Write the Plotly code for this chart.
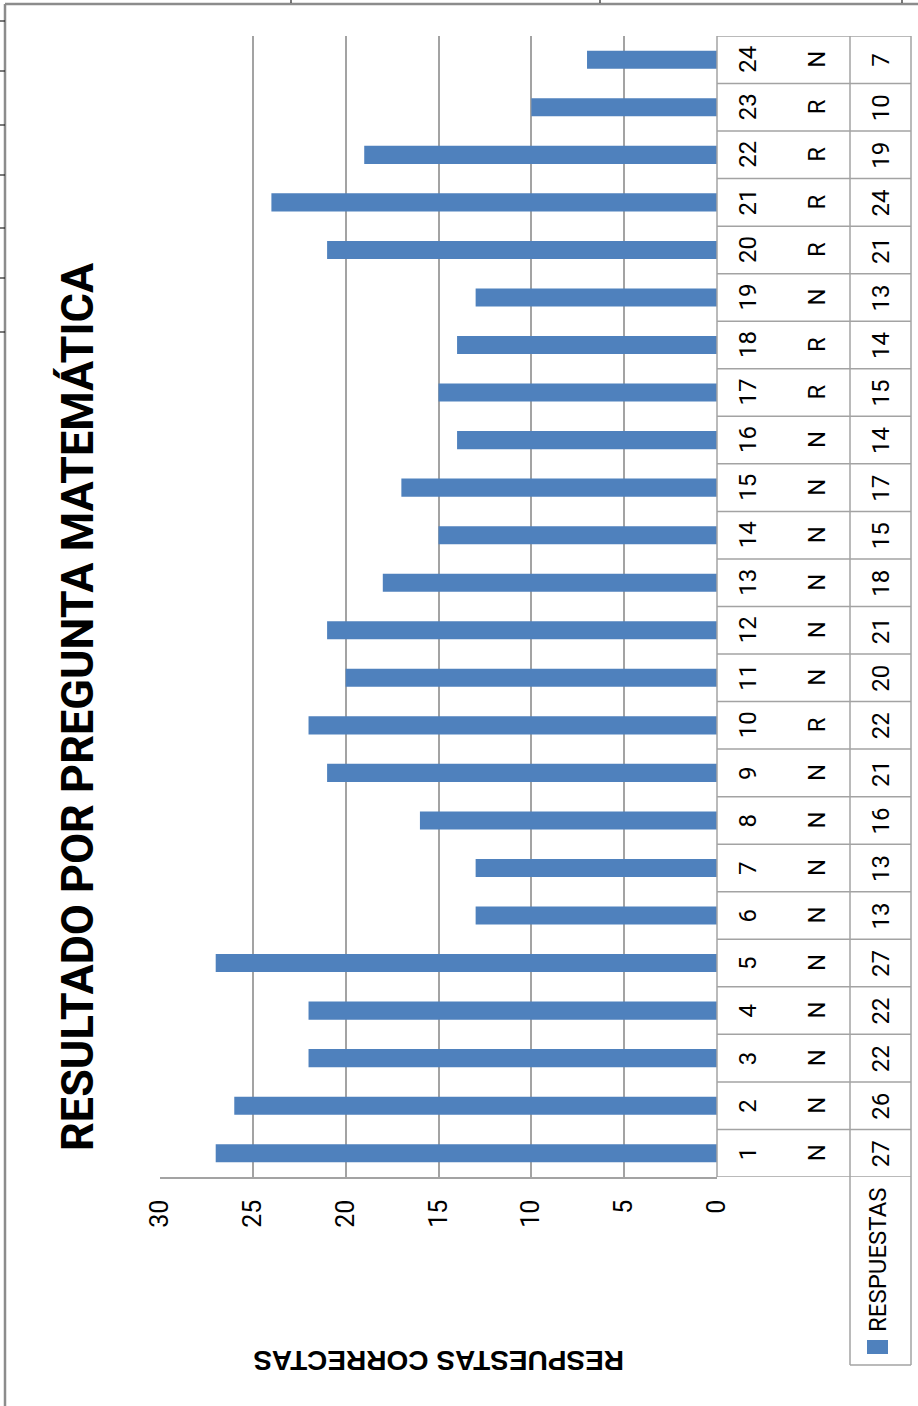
import plotly.graph_objects as go

# ---------------- data ----------------
preguntas = ["1", "2", "3", "4", "5", "6", "7", "8", "9", "10", "11", "12",
             "13", "14", "15", "16", "17", "18", "19", "20", "21", "22", "23", "24"]
tipo = ["N", "N", "N", "N", "N", "N", "N", "N", "N", "R", "N", "N",
        "N", "N", "N", "N", "R", "R", "N", "R", "R", "R", "R", "N"]
respuestas = [27, 26, 22, 22, 27, 13, 13, 16, 21, 22, 20, 21,
              18, 15, 17, 14, 15, 14, 13, 21, 24, 19, 10, 7]
tick_vals = [0, 5, 10, 15, 20, 25, 30]
tick_text = ["0", "5", "10", "15", "20", "25", "30"]
serie_nombre = "RESPUESTAS"
titulo = "RESULTADO POR PREGUNTA MATEMÁTICA"
titulo_eje = "RESPUESTAS CORRECTAS"

# ---------------- layout geometry ----------------
W, H = 918, 1406
PX0, PX1 = 160, 717      # plot area left/right (pixels)
PY0, PY1 = 36, 1177      # plot area top/bottom (pixels)


def px(x):
    return (x - PX0) / (PX1 - PX0)


def py(y):
    return (PY1 - y) / (PY1 - PY0)


NARROW = "Roboto, Liberation Sans Narrow, DejaVu Sans Condensed, sans-serif"
WIDE = "Liberation Sans, Arial, DejaVu Sans, sans-serif"
BLUE = "#4F81BD"
GRID = "#a3a3a3"

fig = go.Figure()
fig.add_trace(go.Bar(
    x=respuestas, y=preguntas, orientation="h",
    marker=dict(color=BLUE, line=dict(width=0)),
    name=serie_nombre, showlegend=False,
))

shapes = []
annotations = []

# data table: row borders
n = len(preguntas)
for i in range(n + 1):
    shapes.append(dict(type="line", xref="paper", yref="y",
                       x0=px(717), x1=px(911), y0=i - 0.5, y1=i - 0.5,
                       line=dict(color=GRID, width=1.5)))
# vertical borders of the table
shapes.append(dict(type="line", xref="paper", yref="paper",
                   x0=px(717), x1=px(717), y0=0, y1=1, line=dict(color=GRID, width=1.5)))
for xx in (850, 911):
    shapes.append(dict(type="line", xref="paper", yref="paper",
                       x0=px(xx), x1=px(xx), y0=py(1365), y1=1, line=dict(color=GRID, width=1.5)))
shapes.append(dict(type="line", xref="paper", yref="paper",
                   x0=px(850), x1=px(911), y0=py(1365), y1=py(1365),
                   line=dict(color=GRID, width=1.5)))
# legend key
shapes.append(dict(type="rect", xref="paper", yref="paper",
                   x0=px(867), x1=px(888), y0=py(1354), y1=py(1340),
                   fillcolor=BLUE, line=dict(width=0)))

# outer frame of the chart (left & top) and document remnants
shapes.append(dict(type="line", xref="paper", yref="paper",
                   x0=px(5), x1=px(5), y0=py(1406), y1=py(4), line=dict(color="#8c8c8c", width=2.5)))
shapes.append(dict(type="line", xref="paper", yref="paper",
                   x0=px(5), x1=px(918), y0=py(4), y1=py(4), line=dict(color="#8c8c8c", width=2.5)))
for yy in (21, 71, 125, 175, 228, 278, 332):
    shapes.append(dict(type="line", xref="paper", yref="paper",
                       x0=px(0), x1=px(5), y0=py(yy), y1=py(yy), line=dict(color="#222", width=1.2)))
for xx in (291, 600, 902):
    shapes.append(dict(type="line", xref="paper", yref="paper",
                       x0=px(xx), x1=px(xx), y0=py(3), y1=py(0), line=dict(color="#222", width=1.2)))

# table texts (y given as category index so numeric-looking labels are not misread)
for i, (cat, t, v) in enumerate(zip(preguntas, tipo, respuestas)):
    for xx, txt in ((748, cat), (817, t), (881, str(v))):
        annotations.append(dict(xref="paper", yref="y", x=px(xx), y=i, text=txt,
                                textangle=-90, showarrow=False, xanchor="center", yanchor="middle",
                                font=dict(family=NARROW, size=24, color="#000")))

# legend text
annotations.append(dict(xref="paper", yref="paper", x=px(878), y=py(1260), text=serie_nombre,
                        textangle=-90, showarrow=False, xanchor="center", yanchor="middle",
                        font=dict(family=NARROW, size=24, color="#000")))
# title
annotations.append(dict(xref="paper", yref="paper", x=px(77), y=py(707), text="<b>" + titulo + "</b>",
                        textangle=-90, showarrow=False, xanchor="center", yanchor="middle",
                        font=dict(family=NARROW, size=45, color="#000")))
# value axis title (upside down)
annotations.append(dict(xref="paper", yref="paper", x=0.5, y=py(1360), text="<b>" + titulo_eje + "</b>",
                        textangle=180, showarrow=False, xanchor="center", yanchor="middle",
                        font=dict(family=WIDE, size=28, color="#000")))

fig.update_layout(
    width=W, height=H,
    margin=dict(l=PX0, r=W - PX1, t=PY0, b=H - PY1, pad=0),
    paper_bgcolor="white", plot_bgcolor="white",
    bargap=0.62,
    shapes=shapes, annotations=annotations,
    xaxis=dict(range=[30, 0], tickmode="array", tickvals=tick_vals, ticktext=tick_text,
               tickangle=-90, tickfont=dict(family=NARROW, size=25, color="#000"),
               showgrid=True, gridcolor=GRID, gridwidth=1.5, zeroline=False,
               showline=True, linecolor=GRID, linewidth=1.5, ticks="", ticklabelstandoff=11),
    yaxis=dict(type="category", categoryorder="array", categoryarray=preguntas,
               range=[-0.5, n - 0.5], showticklabels=False, showgrid=False, zeroline=False,
               showline=False, ticks=""),
)

fig.write_html("out.html", config={"displayModeBar": False},
               post_script="document.body.style.margin='0';document.body.style.overflow='hidden';")
